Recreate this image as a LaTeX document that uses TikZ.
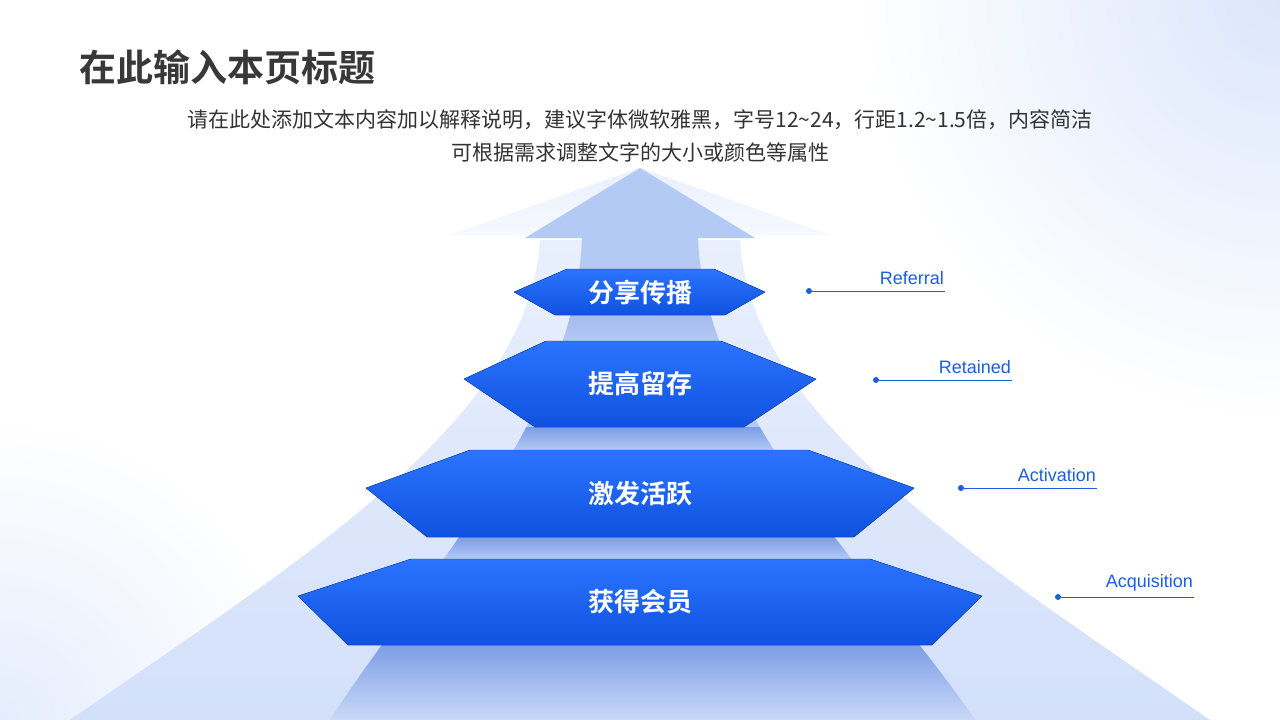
\documentclass[tikz,border=0pt]{standalone}
\usepackage{fontspec}
\newfontfamily\cjk{Noto Sans CJK SC}
\newfontfamily\cjkb{Noto Sans CJK SC Bold}
\setmainfont{Liberation Sans}
\definecolor{lab}{HTML}{1A5FE0}
\definecolor{outerb}{HTML}{D3E0FA}
\definecolor{midb}{HTML}{B3CAF5}
\definecolor{hexT}{HTML}{2B74FF}
\definecolor{hexB}{HTML}{0F52DF}
\definecolor{shad}{HTML}{7D9EE6}
\tikzset{hexa/.style={top color=hexT,bottom color=hexB,draw=hexB!80!black,line width=0.4pt},
 hlab/.style={font=\cjkb\fontsize{26}{26}\selectfont,text=white},
 elab/.style={font=\fontsize{18}{18}\selectfont,text=lab,anchor=south east,inner sep=1pt},
 edot/.style={circle,fill=lab,inner sep=0pt,minimum size=6pt}}
\begin{document}
\begin{tikzpicture}[x=1pt,y=-1pt]
\useasboundingbox (0,0) rectangle (1280,720);
\fill[white] (0,0) rectangle (1280,720);
\begin{scope}
\clip (0,0) rectangle (1280,720);
\shade[inner color=outerb!80,outer color=white] (1280,0) circle (420);
\shade[inner color=outerb!60,outer color=white] (0,720) circle (300);
\end{scope}
% outer arrow
\shade[top color=outerb!50,bottom color=outerb!20] (450,235) -- (640,168) -- (830,235) -- cycle;
\shade[top color=outerb!50,bottom color=outerb] (540,240) .. controls (530,420) and (300,560) .. (70,720) -- (1210,720) .. controls (980,560) and (750,420) .. (740,240) -- cycle;
% middle band
\fill[midb] (525,238) -- (640,168) -- (755,238) -- cycle;
\path[fill=midb] (582,238) .. controls (575,420) and (420,580) .. (330,720) -- (975,720) .. controls (880,580) and (705,420) .. (698,238) -- cycle;
\begin{scope}
\clip (582,238) .. controls (575,420) and (420,580) .. (330,720) -- (975,720) .. controls (880,580) and (705,420) .. (698,238) -- cycle;
\shade[top color=shad!70,bottom color=midb] (300,315) rectangle (1000,341);
\shade[top color=shad,bottom color=midb] (300,427) rectangle (1000,450);
\shade[top color=shad,bottom color=midb] (300,537) rectangle (1000,559);
\shade[top color=shad,bottom color=midb!70!white] (300,645) rectangle (1000,720);
\end{scope}
% hexagons
\fill[hexa] (567,269) -- (714,269) -- (765,292) -- (725,315) -- (555,315) -- (514,292) -- cycle;
\fill[hexa] (546,341) -- (721,341) -- (816,379) -- (744,427) -- (535,427) -- (464,379) -- cycle;
\fill[hexa] (470,450) -- (808,450) -- (914,488) -- (854,537) -- (427,537) -- (366,488) -- cycle;
\fill[hexa] (411,559) -- (870,559) -- (982,596) -- (932,645) -- (348,645) -- (298,596) -- cycle;
\node[hlab] (h1) at (640,293) {分享传播};
\node[hlab] (h2) at (640,384) {提高留存};
\node[hlab] (h3) at (640,494) {激发活跃};
\node[hlab] (h4) at (640,602) {获得会员};
% labels
\node[edot] (d1) at (809,291) {}; \coordinate (e1) at (945,291);
\draw[lab,line width=0.8pt] (d1) -- (e1); \node[elab] (l1) at (945,286) {Referral};
\node[edot] (d2) at (876,380) {}; \coordinate (e2) at (1012,380);
\draw[lab,line width=0.8pt] (d2) -- (e2); \node[elab] (l2) at (1012,375) {Retained};
\node[edot] (d3) at (961,488) {}; \coordinate (e3) at (1097,488);
\draw[lab,line width=0.8pt] (d3) -- (e3); \node[elab] (l3) at (1097,483) {Activation};
\node[edot] (d4) at (1058,597) {}; \coordinate (e4) at (1194,597);
\draw[lab,line width=0.8pt] (d4) -- (e4); \node[elab] (l4) at (1194,592) {Acquisition};
% title
\node[anchor=west,inner sep=0pt,font=\cjkb\fontsize{37}{37}\selectfont,text=black!78] (t) at (79,67) {在此输入本页标题};
\node[inner sep=0pt,font=\cjk\fontsize{21}{21}\selectfont,text=black!80] (s1) at (640,120) {请在此处添加文本内容加以解释说明，建议字体微软雅黑，字号12\textasciitilde24，行距1.2\textasciitilde1.5倍，内容简洁};
\node[inner sep=0pt,font=\cjk\fontsize{21}{21}\selectfont,text=black!80] (s2) at (640,152) {可根据需求调整文字的大小或颜色等属性};
\end{tikzpicture}
\end{document}
